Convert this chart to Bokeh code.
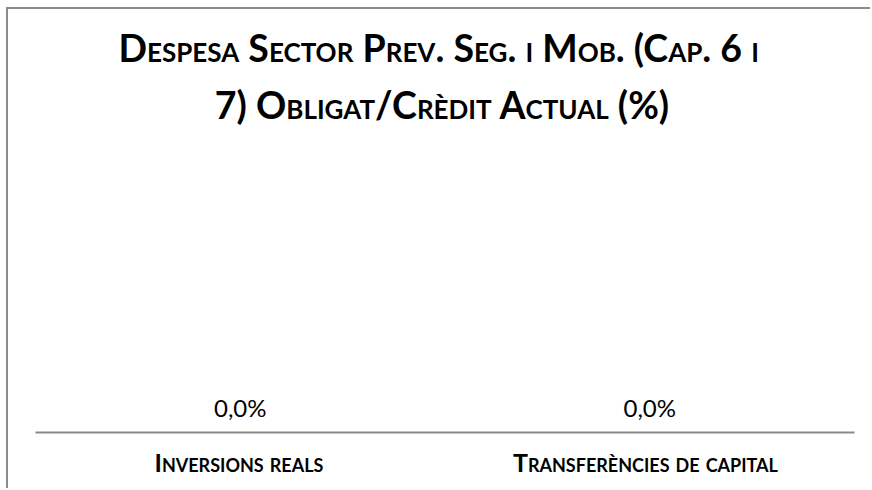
from bokeh.plotting import figure
from bokeh.models import ColumnDataSource, LabelSet, Range1d, FactorRange, Title
from bokeh.core.properties import value
from bokeh.embed import file_html
from bokeh.resources import INLINE

title_lines = ["Despesa Sector Prev. Seg. i Mob. (Cap. 6 i", "7) Obligat/Crèdit Actual (%)"]
categories = ["Inversions reals", "Transferències de capital"]
values = [0.0, 0.0]
labels = [f"{v:.1f}".replace(".", ",") + "%" for v in values]

src = ColumnDataSource(dict(cat=categories, val=values, label=labels))

p = figure(width=864, height=481, x_range=FactorRange(*categories), y_range=Range1d(0, 1),
           output_backend="svg", toolbar_location=None,
           min_border_left=27, min_border_right=18, min_border_bottom=58, min_border_top=127,
           styles={"margin-left": "6px", "margin-top": "7px",
                   "border-top": "2px solid #8c8c8c", "border-left": "2px solid #8c8c8c",
                   "font-variant": "small-caps"})
p.title = None

# line 2 (closest to the plot) first, then line 1
t2 = Title(text=title_lines[1], align="center", text_font="Lato", text_font_style="bold",
           text_font_size="37.5px", text_color="#000000", standoff=20)
p.add_layout(t2, "above")
t1 = Title(text=title_lines[0], align="left", offset=83, text_font="Lato", text_font_style="bold",
           text_font_size="37.5px", text_color="#000000", standoff=0)
p.add_layout(t1, "above")

p.vbar(x="cat", top="val", source=src, width=0.6, fill_color="#4472C4", line_color=None)

p.add_layout(LabelSet(x="cat", y="val", text="label", source=src, y_offset=25,
                      text_align="center", text_baseline="middle",
                      text_font=value("Lato"), text_font_size=value("24px"),
                      text_color="#000000"))

p.outline_line_color = None
p.xgrid.grid_line_color = None
p.ygrid.grid_line_color = None
p.yaxis.visible = False
p.xaxis.axis_line_color = "#898989"
p.xaxis.axis_line_width = 2
p.xaxis.major_tick_line_color = None
p.xaxis.minor_tick_line_color = None
p.xaxis.major_label_text_font = "Lato"
p.xaxis.major_label_text_font_style = "bold"
p.xaxis.major_label_text_font_size = "25px"
p.xaxis.major_label_text_color = "#000000"
p.xaxis.major_label_standoff = 8
p.x_range.range_padding = 0

open("out.html", "w").write(file_html(p, INLINE))
